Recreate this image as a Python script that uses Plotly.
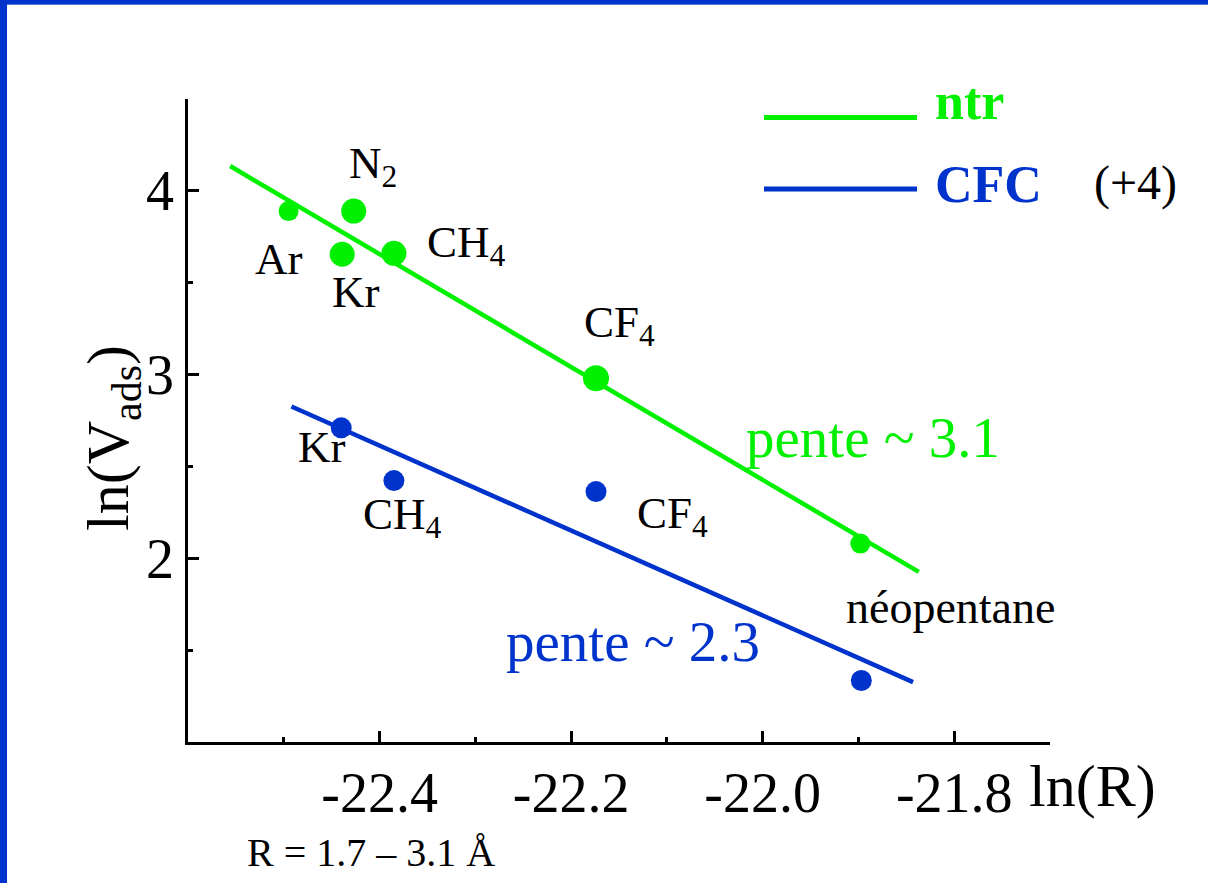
import plotly.graph_objects as go

# ---------------- data ----------------
gas_ntr = ["Ar", "N<sub>2</sub>", "Kr", "CH<sub>4</sub>", "CF<sub>4</sub>", "néopentane"]
lnR_ntr = [-22.495, -22.427, -22.439, -22.385, -22.174, -21.898]
lnV_ntr = [3.89, 3.89, 3.655, 3.66, 2.98, 2.08]

gas_cfc = ["Kr", "CH<sub>4</sub>", "CF<sub>4</sub>", "néopentane"]
lnR_cfc = [-22.44, -22.385, -22.174, -21.897]
lnV_cfc = [2.71, 2.423, 2.363, 1.335]

fit_ntr_x = [-22.556, -21.837]
fit_ntr_y = [4.135, 1.926]
fit_cfc_x = [-22.492, -21.843]
fit_cfc_y = [2.826, 1.326]

x_ticks = [-22.4, -22.2, -22.0, -21.8]
x_ticklabels = ["-22.4", "-22.2", "-22.0", "-21.8"]
x_minor = [-22.5, -22.3, -22.1, -21.9, -21.7]
y_ticks = [2, 3, 4]
y_minor = [1.5, 2.5, 3.5, 4.5]

# ---------------- style ----------------
GREEN = "#00F000"
BLUE = "#0033CC"
FONT = "Liberation Serif"
size_ntr = [20, 25, 25, 25, 26, 20]
size_cfc = [21, 21, 21, 21]
# label offsets in pixels (xshift, yshift) relative to each point
off_ntr = [(-10, -48), (19, 45), (13, -38), (73, 8), (23, 53), (90, -64)]
off_cfc = [(-20, -19), (9, -36), (76, -24)]

W, H = 1208, 883
L, R, T, B = 188, 1050, 99, 742


def px(x):
    return (x - L) / (R - L)


def py(y):
    return (B - y) / (B - T)


fig = go.Figure()

fig.add_trace(go.Scatter(x=fit_ntr_x, y=fit_ntr_y, mode="lines",
                         line=dict(color=GREEN, width=4.5), showlegend=False))
fig.add_trace(go.Scatter(x=fit_cfc_x, y=fit_cfc_y, mode="lines",
                         line=dict(color=BLUE, width=4.5), showlegend=False))
fig.add_trace(go.Scatter(x=lnR_ntr, y=lnV_ntr, mode="markers",
                         marker=dict(color=GREEN, size=size_ntr, opacity=1, line=dict(width=0)),
                         showlegend=False))
fig.add_trace(go.Scatter(x=lnR_cfc, y=lnV_cfc, mode="markers",
                         marker=dict(color=BLUE, size=size_cfc, opacity=1, line=dict(width=0)),
                         showlegend=False))

ann = []
for i, g in enumerate(gas_ntr):
    fs = 46 if g == "néopentane" else 45
    ann.append(dict(x=lnR_ntr[i], y=lnV_ntr[i], text=g, showarrow=False,
                    xanchor="center", yanchor="middle",
                    xshift=off_ntr[i][0], yshift=off_ntr[i][1],
                    font=dict(family=FONT, size=fs, color="black")))
for i, g in enumerate(gas_cfc[:3]):
    ann.append(dict(x=lnR_cfc[i], y=lnV_cfc[i], text=g, showarrow=False,
                    xanchor="center", yanchor="middle",
                    xshift=off_cfc[i][0], yshift=off_cfc[i][1],
                    font=dict(family=FONT, size=45, color="black")))


def note(xp, yp, text, size, color="black", anchor="center", bold=False, angle=0):
    return dict(x=px(xp), y=py(yp), xref="paper", yref="paper", text=text,
                xanchor=anchor, yanchor="middle", showarrow=False, textangle=angle,
                font=dict(family=FONT, size=size, color=color))


ann += [
    note(873, 437, "pente ~ 3.1", 57, GREEN),
    note(633, 641, "pente ~ 2.3", 57, BLUE),
    note(933, 102, "<b>ntr</b>", 52, GREEN, anchor="left"),
    note(933, 184, "<b>CFC</b>", 52, BLUE, anchor="left"),
    note(1135, 183, "(+4)", 48),
    note(1092, 786, "ln(R)", 60),
    note(371, 852, "R = 1.7 – 3.1 Å", 40),
    note(112, 438, "ln(V<sub>ads</sub>)", 60, angle=-90),
]

shapes = [
    # legend sample lines
    dict(type="line", xref="paper", yref="paper", x0=px(764), x1=px(917),
         y0=py(117.5), y1=py(117.5), line=dict(color=GREEN, width=5)),
    dict(type="line", xref="paper", yref="paper", x0=px(764), x1=px(917),
         y0=py(189), y1=py(189), line=dict(color=BLUE, width=5)),
    # slide frame
    dict(type="rect", xref="paper", yref="paper", x0=px(0), x1=px(7), y0=py(H), y1=py(0),
         fillcolor=BLUE, line=dict(width=0), layer="above"),
    dict(type="rect", xref="paper", yref="paper", x0=px(0), x1=px(W), y0=py(4), y1=py(0),
         fillcolor=BLUE, line=dict(width=0), layer="above"),
    dict(type="rect", xref="paper", yref="paper", x0=px(7), x1=px(W), y0=py(5), y1=py(4),
         fillcolor="#5A7FE0", line=dict(width=0), layer="above"),
]

axis_common = dict(showline=True, linecolor="black", linewidth=2.5, showgrid=False,
                   zeroline=False, ticks="inside", ticklen=11, tickwidth=2.5,
                   tickcolor="black", tickfont=dict(family=FONT, size=56, color="black"))

fig.update_layout(
    width=W, height=H,
    margin=dict(l=L, r=W - R, t=T, b=H - B, pad=0),
    paper_bgcolor="white", plot_bgcolor="white",
    xaxis=dict(range=[-22.6, -21.7], tickvals=x_ticks, ticktext=x_ticklabels,
               minor=dict(tickvals=x_minor, ticks="inside", ticklen=5, tickwidth=2.5,
                          tickcolor="black", showgrid=False),
               ticklabelstandoff=0, **axis_common),
    yaxis=dict(range=[1.0, 4.5], tickvals=y_ticks,
               minor=dict(tickvals=y_minor, ticks="inside", ticklen=5, tickwidth=2.5,
                          tickcolor="black", showgrid=False),
               ticklabelstandoff=0, **axis_common),
    annotations=ann, shapes=shapes, showlegend=False,
)

fig.write_html("out.html")
